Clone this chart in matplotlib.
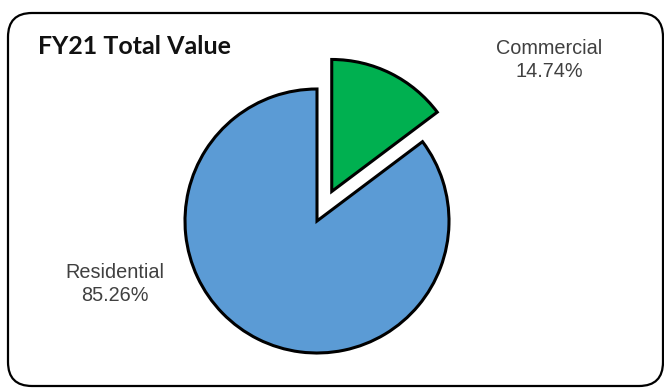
import matplotlib.pyplot as plt
from matplotlib.patches import FancyBboxPatch

# Sector shares of FY21 total value
sectors = ["Commercial", "Residential"]
shares = [14.74, 85.26]
colors = ["#00B050", "#5B9BD5"]
explode_frac = [0.25, 0]

W, H = 664, 388
R = 132
fig = plt.figure(figsize=(W / 100, H / 100), dpi=100)
ax = fig.add_axes([0, 0, 1, 1])

# pie drawn in pixel units, y measured upward; explode is absolute here
ax.pie(shares, colors=colors, explode=[f * R for f in explode_frac],
       startangle=90, counterclock=False, center=(317, H - 221), radius=R,
       wedgeprops=dict(edgecolor="black", linewidth=2.2))
ax.set_xlim(0, W)
ax.set_ylim(0, H)
ax.set_aspect("equal")
ax.axis("off")

# rounded outer frame
frame = FancyBboxPatch((8, H - 386), 655, 373,
                       boxstyle="round,pad=0,rounding_size=24",
                       facecolor="none", edgecolor="black", linewidth=1.6,
                       clip_on=False)
ax.add_patch(frame)

ax.text(38, H - 47, "FY21 Total Value", fontsize=18, fontweight="bold",
        family="Lato", ha="left", va="center", color="#111111")

label_pos = {"Commercial": (549, H - 60), "Residential": (115, H - 284)}
for name, val in zip(sectors, shares):
    x, y = label_pos[name]
    ax.text(x, y, f"{name}\n{val:.2f}%", fontsize=14.3,
            family="Liberation Sans", ha="center", va="center",
            color="#404040", linespacing=1.3)

fig.savefig("out.png", dpi=100)
